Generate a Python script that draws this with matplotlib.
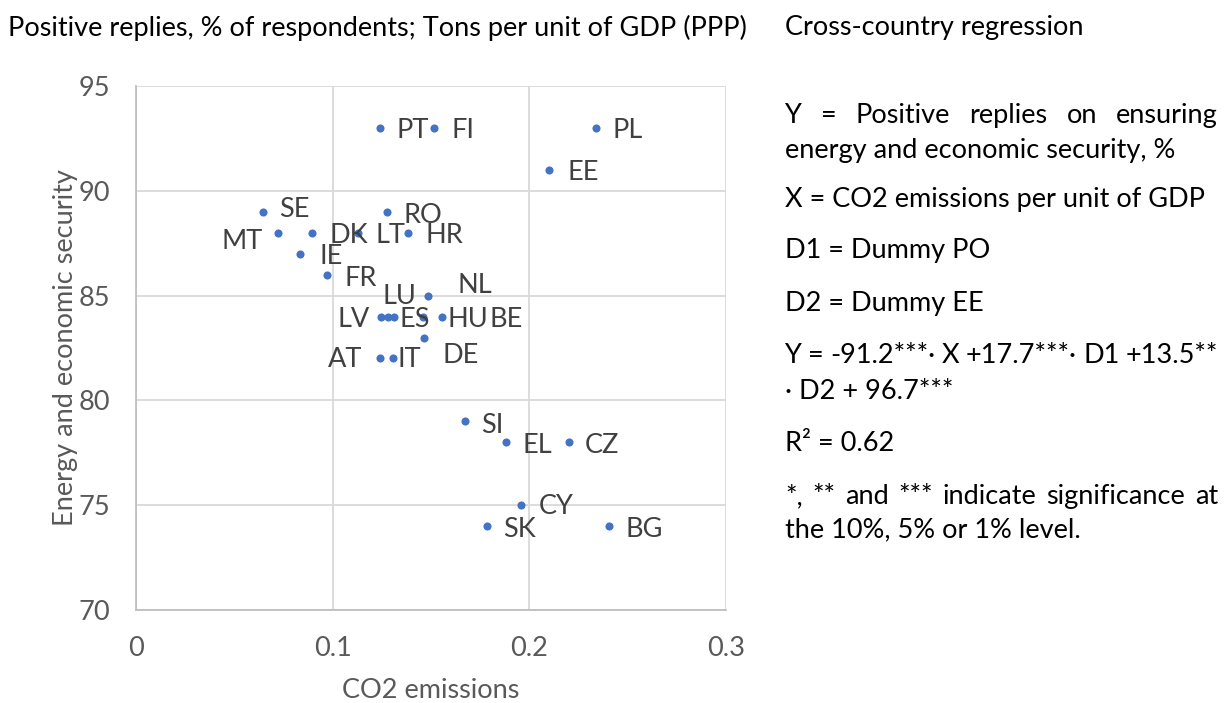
import matplotlib
matplotlib.use("Agg")
import matplotlib.pyplot as plt

plt.rcParams['font.family'] = ['Lato', 'DejaVu Sans']

# data
countries = ['PT', 'FI', 'PL', 'EE', 'SE', 'RO', 'MT', 'DK', 'LT', 'HR', 'IE', 'FR', 'LU',
             'NL', 'LV', 'ES', 'BE', 'HU', 'DE', 'AT', 'IT', 'SI', 'EL', 'CZ', 'CY', 'SK', 'BG']
co2 = [0.124, 0.1515, 0.2337, 0.210, 0.0646, 0.1276, 0.0722, 0.0895, 0.1129, 0.1383, 0.0834,
       0.0971, 0.1484, 0.1279, 0.1246, 0.1312, 0.1458, 0.1554, 0.1464, 0.124, 0.1305, 0.1673,
       0.1881, 0.220, 0.1957, 0.1784, 0.2405]
security = [93, 93, 93, 91, 89, 89, 88, 88, 88, 88, 87, 86, 85, 84, 84, 84, 84, 84, 83, 82, 82,
            79, 78, 78, 75, 74, 74]

# label placement: (dx px, dy px downwards, ha)
label_pos = {
    'PT': (17, 0, 'left'), 'FI': (18, 0, 'left'), 'PL': (17, 0, 'left'), 'EE': (18, 0, 'left'),
    'SE': (16, -5, 'left'), 'RO': (17, 1, 'left'), 'MT': (-15, 6, 'right'), 'DK': (17, 0, 'left'),
    'LT': (17, 0, 'left'), 'HR': (18, 0, 'left'), 'IE': (19, 0, 'left'), 'FR': (18, 1, 'left'),
    'LU': (-11, -2, 'right'), 'NL': (70, -34, 'left'), 'LV': (-11, 0, 'right'),
    'ES': (5, 0, 'left'), 'BE': (67, 0, 'left'), 'HU': (6, 0, 'left'), 'DE': (19, 15, 'left'),
    'AT': (-18, -1, 'right'), 'IT': (5, -1, 'left'), 'SI': (16, 2, 'left'), 'EL': (17, 1, 'left'),
    'CZ': (16, 1, 'left'), 'CY': (18, -1, 'left'), 'SK': (16, 1, 'left'), 'BG': (17, 1, 'left'),
}

notes = [
    'Y = Positive replies on ensuring',
    'energy and economic security, %',
    'X = CO2 emissions per unit of GDP',
    'D1 = Dummy PO',
    'D2 = Dummy EE',
    'Y = -91.2***· X +17.7***· D1 +13.5**',
    '· D2 + 96.7***',
    'R² = 0.62',
    '*, ** and *** indicate significance at',
    'the 10%, 5% or 1% level.',
]
note_y = [113, 148, 197, 248, 301, 353, 389, 441, 494, 527]
justified = [True, False, False, False, False, True, False, False, True, False]

W, H = 1229, 703
fig = plt.figure(figsize=(W / 100, H / 100), dpi=100)
ax = fig.add_axes([136 / W, 1 - 610 / H, 590 / W, 524 / H])

fs = 19.5
ax.scatter(co2, security, s=34, color='#4472C4', zorder=3, linewidths=0)
for c, x, y in zip(countries, co2, security):
    dx, dy, ha = label_pos[c]
    ax.annotate(c, (x, y), xytext=(dx, -dy), textcoords='offset pixels',
                ha=ha, va='center_baseline', fontsize=fs, color='#404040', zorder=4)

ax.set_xlim(0, 0.3)
ax.set_ylim(70, 95)
ax.set_xticks([0, 0.1, 0.2, 0.3])
ax.set_xticklabels(['0', '0.1', '0.2', '0.3'])
ax.set_yticks([70, 75, 80, 85, 90, 95])
ax.grid(True, color='#d9d9d9', linewidth=1.3)
ax.set_axisbelow(True)
for s in ['top', 'right']:
    ax.spines[s].set_visible(False)
for s in ['left', 'bottom']:
    ax.spines[s].set_color('#bfbfbf')
    ax.spines[s].set_linewidth(1.3)
ax.tick_params(length=0, labelsize=fs, labelcolor='#595959')
ax.tick_params(axis='y', pad=18.5)
ax.tick_params(axis='x', pad=19)
ax.set_xlabel('CO2 emissions', fontsize=fs, color='#595959')
ax.set_ylabel('Energy and economic security', fontsize=fs, color='#595959')
ax.xaxis.set_label_coords(0.5, (610 - 678) / 524)
ax.yaxis.set_label_coords((78 - 136) / 590, 0.5)

fig.text(8 / W, 1 - 25 / H, 'Positive replies, % of respondents; Tons per unit of GDP (PPP)',
         fontsize=fs, color='black', va='center_baseline', ha='left')
fig.text(785 / W, 1 - 25 / H, 'Cross-country regression',
         fontsize=fs, color='black', va='center_baseline', ha='left')

# right-hand notes, with justified lines spread between the margins
fig.canvas.draw()
r = fig.canvas.get_renderer()
left, right = 785, 1218
for line, yy, just in zip(notes, note_y, justified):
    if not just:
        fig.text(left / W, 1 - yy / H, line, fontsize=fs, color='black',
                 va='center_baseline', ha='left')
        continue
    words = line.split(' ')
    ts = [fig.text(0, 1 - yy / H, w, fontsize=fs, color='black', va='center_baseline', ha='left')
          for w in words]
    widths = [t.get_window_extent(r).width for t in ts]
    gap = (right - left - sum(widths)) / (len(words) - 1)
    x = left
    for t, w in zip(ts, widths):
        t.set_x(x / W)
        x += w + gap

fig.savefig('out.png', dpi=100)
